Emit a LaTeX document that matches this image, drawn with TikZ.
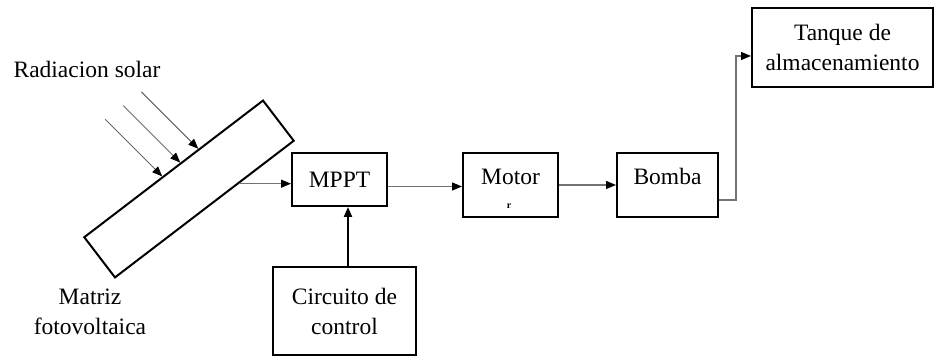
\documentclass[tikz,border=0pt]{standalone}
\usepackage{fontspec}
\setmainfont{Liberation Serif}
\usetikzlibrary{arrows.meta, calc}

\begin{document}
\begin{tikzpicture}[x=0.5pt, y=-0.5pt,
		font=\fontsize{11.75}{15}\selectfont,
		block/.style={draw, line width=1pt, align=center, inner sep=0pt},
		conn/.style={draw=black!55, line width=0.6pt, -{Triangle[length=5pt, width=4pt, color=black]}},
		ray/.style={draw=black!70, line width=0.4pt, -{Triangle[length=5pt, width=4pt, color=black]}},
		ctl/.style={draw=black, line width=1pt, -{Triangle[length=5pt, width=4pt]}}]
		\useasboundingbox (0,0) rectangle (934,356);
		% solar panel
		\node[block, rotate=37.4, minimum width=112.5pt, minimum height=25.3pt] (panel) at (189,189) {};
		\node (rad) at (87,69) {Radiacion solar};
		\node[align=center] (matriz) at (90,312) {Matriz\\fotovoltaica};
		\foreach \t/\n in {0.44/1, 0.54/2, 0.64/3} {
			\coordinate (hit\n) at ($(panel.north west)!\t!(panel.north east)$);
			\coordinate (sun\n) at ($(hit\n)+(-57,-57)$);
			\draw[ray] (sun\n) -- (hit\n);
		}
		% blocks
		\node[block, minimum width=47.5pt, minimum height=26.5pt] (mppt) at (339.5,179.5) {MPPT};
		\node[block, minimum width=47.5pt, minimum height=32pt, text height=8pt, text depth=8pt] (motor) at (510.5,185) {Motor};
		\node[font=\fontsize{5}{5}\selectfont\bfseries, inner sep=0pt] (mark) at (509,206) {r};
		\node[block, minimum width=50.5pt, minimum height=32pt, text height=8pt, text depth=8pt] (bomba) at (667.5,185) {Bomba};
		\node[block, minimum width=90.5pt, minimum height=39.5pt] (tanque) at (842.5,47.5) {Tanque de\\almacenamiento};
		\node[block, minimum width=71.5pt, minimum height=44pt] (ctrl) at (344.5,311) {Circuito de\\control};
		% connectors
		\coordinate (pvout) at ($(panel.south west)!0.69!(panel.south east)$);
		\draw[conn] (pvout) -- (pvout -| mppt.west);
		\coordinate (mout) at ([yshift=-3.5pt]mppt.east);
		\draw[conn] (mout) -- (mout -| motor.west);
		\draw[conn] (motor.east) -- (bomba.west);
		\coordinate (bout) at ([yshift=-7.5pt]bomba.east);
		\coordinate (tin) at ([yshift=-4.25pt]tanque.west);
		\draw[conn] (bout) -- ++(17,0) |- (tin);
		\coordinate (cout) at ([xshift=1.75pt]ctrl.north);
		\draw[ctl] (cout) -- (cout |- mppt.south);
	\end{tikzpicture}
\end{document}
